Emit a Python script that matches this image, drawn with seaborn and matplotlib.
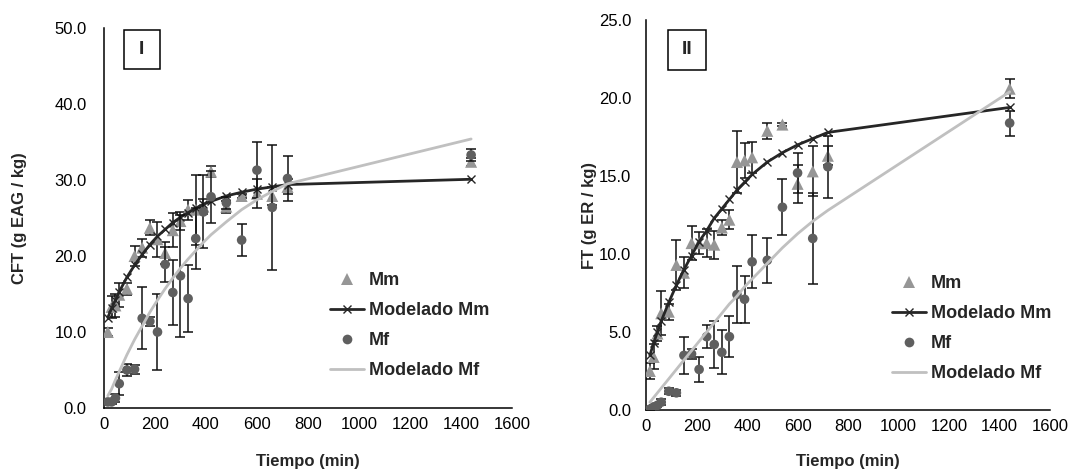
import matplotlib
matplotlib.use("Agg")
import matplotlib.pyplot as plt
from matplotlib.lines import Line2D
from matplotlib.patches import Rectangle
import seaborn as sns
import numpy as np

sns.set_style("white")
plt.rcParams['font.family'] = ['Liberation Sans', 'DejaVu Sans']

# ---------------- data ----------------
tiempo = [15, 30, 45, 60, 90, 120, 150, 180, 210, 240, 270, 300, 330, 360,
          390, 420, 480, 540, 600, 660, 720, 1440]

# Panel I (CFT)
mm1 = [10.0, 13.3, 13.5, 14.9, 15.7, 20.0, 21.1, 23.7, 22.2, 20.4, 23.4, 24.6,
       26.1, 26.1, 26.5, 31.1, 26.5, 27.9, 28.2, 27.9, 29.1, 32.4]
mm1_err = [0.5, 1.5, 1.5, 1.6, 0.8, 1.3, 1.2, 1.0, 2.3, 1.5, 2.2, 1.2,
           1.3, 4.6, 1.0, 0.7, 0.8, 0.3, 1.9, 1.2, 1.0, 0.5]
mf1 = [0.8, 0.8, 1.3, 3.2, 5.0, 5.1, 11.8, 11.4, 10.0, 18.9, 15.2, 17.4,
       14.4, 22.3, 25.8, 27.8, 27.0, 22.1, 31.3, 26.4, 30.2, 33.3]
mf1_err = [0.3, 0.3, 0.5, 1.5, 0.8, 0.6, 4.1, 0.6, 5.0, 2.3, 4.3, 8.0,
           4.4, 4.0, 4.8, 3.4, 0.8, 2.1, 3.7, 8.2, 3.0, 0.8]
mod_mm1 = [11.9, 13.1, 14.2, 15.3, 17.2, 18.8, 20.2, 21.5, 22.6, 23.5, 24.4, 25.1,
           25.7, 26.3, 26.8, 27.2, 27.9, 28.4, 28.8, 29.1, 29.4, 30.1]
mod_mf1 = [1.6, 2.5, 3.7, 4.8, 7.0, 9.0, 10.8, 12.6, 14.2, 15.7, 17.1, 18.4,
           19.6, 20.7, 21.8, 22.8, 24.5, 26.1, 27.4, 28.5, 29.5, 35.4]

# Panel II (FT)
mm2 = [2.5, 3.4, 4.9, 6.2, 6.3, 9.3, 8.8, 10.7, 10.7, 10.7, 10.6, 11.7,
       12.2, 15.9, 16.0, 16.2, 17.9, 18.3, 14.5, 15.3, 16.3, 20.6]
mm2_err = [0.5, 0.8, 0.5, 1.4, 0.5, 1.6, 1.0, 1.1, 0.7, 0.9, 0.9, 0.5,
           0.6, 2.0, 1.1, 1.0, 0.5, 0.1, 1.2, 1.6, 0.6, 0.6]
mf2 = [0.05, 0.2, 0.3, 0.5, 1.2, 1.1, 3.5, 3.6, 2.6, 4.7, 4.2, 3.7,
       4.7, 7.4, 7.1, 9.5, 9.6, 13.0, 15.2, 11.0, 15.6, 18.4]
mf2_err = [0.1, 0.1, 0.1, 0.2, 0.2, 0.2, 1.2, 0.3, 0.8, 0.75, 1.5, 1.4,
           1.3, 1.85, 1.5, 1.7, 1.45, 1.8, 1.3, 2.9, 2.0, 0.8]
mod_mm2 = [3.5, 4.3, 5.0, 5.7, 6.9, 8.0, 9.0, 9.9, 10.8, 11.5, 12.3, 12.9,
           13.5, 14.1, 14.6, 15.1, 15.9, 16.5, 17.0, 17.4, 17.8, 19.4]
mod_mf2 = [0.5, 0.8, 1.1, 1.4, 2.0, 2.6, 3.2, 3.8, 4.4, 5.0, 5.6, 6.2,
           6.8, 7.3, 7.9, 8.4, 9.4, 10.4, 11.3, 12.1, 12.8, 20.4]

series_labels = ["Mm", "Modelado Mm", "Mf", "Modelado Mf"]
panel_labels = ["I", "II"]
y_labels = ["CFT (g EAG / kg)", "FT (g ER / kg)"]
x_label = "Tiempo (min)"
x_ticks = [0, 200, 400, 600, 800, 1000, 1200, 1400, 1600]
y_ticks_1 = [0, 10, 20, 30, 40, 50]
y_ticks_2 = [0, 5, 10, 15, 20, 25]

# ---------------- style ----------------
C_MM = "#969696"
C_MF = "#5f5f5f"
C_MOD_MM = "#262626"
C_MOD_MF = "#c0c0c0"
C_ERR = "#111111"

fig = plt.figure(figsize=(10.75, 4.72), dpi=100)
ax1 = fig.add_axes([0.0967, 0.1356, 0.3795, 0.805])
ax2 = fig.add_axes([0.601, 0.1314, 0.3758, 0.826])


def draw(ax, mm, mm_err, mf, mf_err, mod_mm, mod_mf, ymax, yticks, ylab,
         panel, box, ylab_x, xlab_y, leg_anchor, ypad):
    ax.errorbar(tiempo, mm, yerr=mm_err, fmt='none', ecolor=C_ERR,
                elinewidth=1.1, capsize=3.5, capthick=1.1, zorder=2)
    sns.scatterplot(x=tiempo, y=mm, ax=ax, marker='^', s=75, color=C_MM,
                    edgecolor='none', linewidth=0, zorder=3, legend=False)
    sns.lineplot(x=tiempo, y=mod_mm, ax=ax, color=C_MOD_MM, lw=2.0,
                 marker='x', markersize=6, markeredgewidth=1.0,
                 markeredgecolor=C_MOD_MM, sort=False, legend=False, zorder=4)
    ax.errorbar(tiempo, mf, yerr=mf_err, fmt='none', ecolor=C_ERR,
                elinewidth=1.1, capsize=3.5, capthick=1.1, zorder=5)
    sns.scatterplot(x=tiempo, y=mf, ax=ax, marker='o', s=48, color=C_MF,
                    edgecolor='none', linewidth=0, zorder=6, legend=False)
    sns.lineplot(x=tiempo, y=mod_mf, ax=ax, color=C_MOD_MF, lw=2.0,
                 sort=False, legend=False, zorder=7)

    ax.set_xlim(0, 1600)
    ax.set_ylim(0, ymax)
    ax.set_xticks(x_ticks)
    ax.set_xticklabels([str(v) for v in x_ticks])
    ax.set_yticks(yticks)
    ax.set_yticklabels([f"{v:.1f}" for v in yticks])
    for s in ["top", "right"]:
        ax.spines[s].set_visible(False)
    for s in ["left", "bottom"]:
        ax.spines[s].set_color("black")
        ax.spines[s].set_linewidth(1.1)
    ax.tick_params(axis='both', direction='inout', length=7, width=1.1,
                   colors='black', labelsize=12)
    ax.tick_params(axis='x', pad=3)
    ax.tick_params(axis='y', pad=ypad)
    ax.set_ylabel(ylab, fontsize=12, fontweight='bold')
    ax.set_xlabel(x_label, fontsize=12, fontweight='bold')
    ax.yaxis.set_label_coords(ylab_x, 0.5)
    ax.xaxis.set_label_coords(0.5, xlab_y)

    x0, y0, w, h = box
    ax.add_patch(Rectangle((x0, y0), w, h, transform=ax.transAxes,
                           fill=False, edgecolor='black', lw=1.1,
                           clip_on=False, zorder=10))
    ax.text(x0 + w / 2, y0 + h / 2, panel, transform=ax.transAxes,
            ha='center', va='center', fontsize=14, fontweight='bold')

    handles = [
        Line2D([], [], ls='none', marker='^', markersize=8.5, color=C_MM,
               markeredgewidth=0),
        Line2D([], [], color=C_MOD_MM, lw=2.0, marker='x', markersize=6,
               markeredgewidth=1.0),
        Line2D([], [], ls='none', marker='o', markersize=7, color=C_MF,
               markeredgewidth=0),
        Line2D([], [], color=C_MOD_MF, lw=2.0),
    ]
    ax.legend(handles, series_labels, loc='upper left',
              bbox_to_anchor=leg_anchor, frameon=False, borderaxespad=0,
              borderpad=0, handlelength=1.9, handletextpad=0.25,
              labelspacing=0.72, prop={'size': 13, 'weight': 'bold'})


draw(ax1, mm1, mm1_err, mf1, mf1_err, mod_mm1, mod_mf1, 50, y_ticks_1,
     y_labels[0], panel_labels[0], (0.049, 0.892, 0.088, 0.103),
     -0.189, -0.122, (0.554, 0.358), 9)
draw(ax2, mm2, mm2_err, mf2, mf2_err, mod_mm2, mod_mf2, 25, y_ticks_2,
     y_labels[1], panel_labels[1], (0.054, 0.872, 0.094, 0.103),
     -0.122, -0.113, (0.608, 0.345), 7)

fig.savefig("out.png", dpi=100, facecolor='white')
